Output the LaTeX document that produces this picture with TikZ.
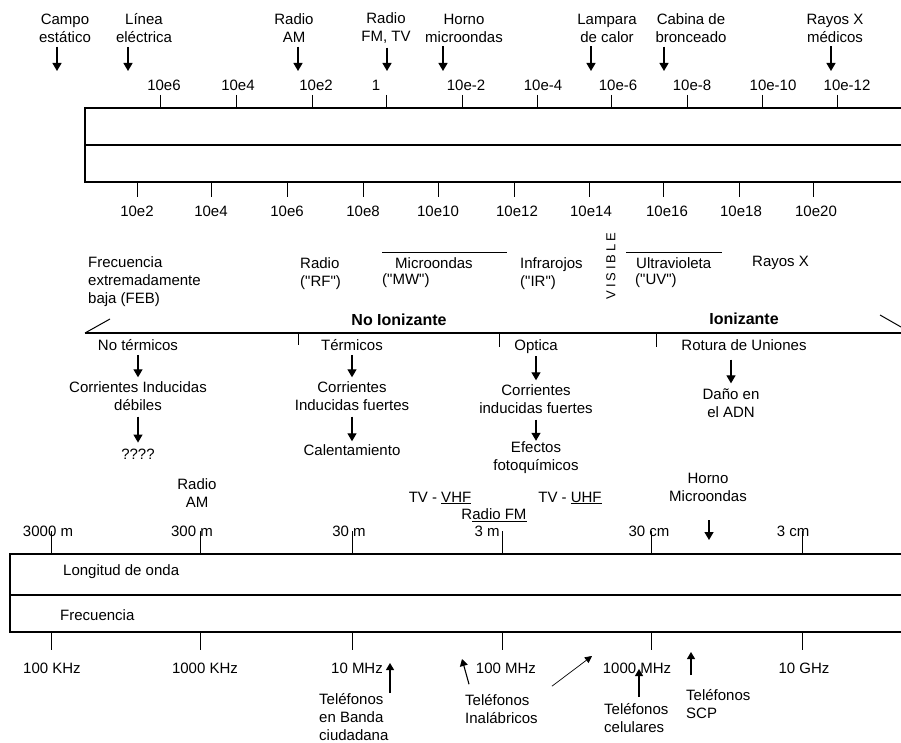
\documentclass[tikz,border=0pt]{standalone}
\usepackage{fontspec}
\setmainfont{Liberation Sans}[Ligatures=TeXOff]
\usetikzlibrary{arrows.meta}
\begin{document}
\begin{tikzpicture}[x=1pt,y=-1pt,
  every node/.style={font=\fontsize{15}{18}\selectfont, inner sep=0pt},
  lbl/.style={align=center},
  lft/.style={align=left, anchor=west},
  boldlbl/.style={font=\fontsize{16}{18}\selectfont\bfseries},
  axis/.style={line width=1.2pt},
  tick/.style={line width=1pt},
  arr/.style={line width=1.3pt, -{Triangle[length=8pt,width=9pt]}},
  thinarr/.style={line width=0.7pt, -{Triangle[length=7pt,width=7pt]}}
]
\useasboundingbox (0,0) rectangle (901,743);

% ---------- wavelength / frequency scale (metres, hertz) ----------
\draw[axis] (901,108) -- (85,108) -- (85,182) -- (901,182);
\draw[axis] (85,145) -- (901,145);

\foreach \x/\lx/\t [count=\i] in {160/164/10e6, 236/238/10e4, 312/316/10e2,
    386/376/1, 462/466/10e-2, 537/543/10e-4, 611/618/10e-6, 687/692/10e-8,
    762/773/10e-10, 837/847/10e-12}{
  \draw[tick] (\x,95) -- (\x,108);
  \node (wl\i) at (\lx,85) {\t};
}
\foreach \x/\lx/\t [count=\i] in {137/137/10e2, 211/211/10e4, 287/287/10e6,
    363/363/10e8, 438/438/10e10, 514/517/10e12, 589/591/10e14, 663/667/10e16,
    739/741/10e18, 813/816/10e20}{
  \draw[tick] (\x,182) -- (\x,197);
  \node (fq\i) at (\lx,211) {\t};
}

% ---------- sources above the scale ----------
\node[lbl] (campo) at (65,28) {Campo\\estático};
\node[lbl] (linea) at (144,28) {Línea\\eléctrica};
\node[lbl] (radioam) at (294,28) {Radio\\AM};
\node[lbl] (radiofm) at (386,28) {Radio\\FM, TV};
\node[lbl] (horno) at (464,28) {Horno\\microondas};
\node[lbl] (lampara) at (607,28) {Lampara\\de calor};
\node[lbl] (cabina) at (691,28) {Cabina de\\bronceado};
\node[lbl] (rayosx) at (835,28) {Rayos X\\médicos};

\coordinate (pcampo) at (57,71);
\coordinate (plinea) at (128,71);
\coordinate (pradioam) at (298,71);
\coordinate (pradiofm) at (387,71);
\coordinate (phorno) at (443,71);
\coordinate (plampara) at (591,71);
\coordinate (pcabina) at (664,71);
\coordinate (prayosx) at (831,71);
\foreach \n in {campo,linea,radioam,radiofm,horno,lampara,cabina,rayosx}{
  \draw[arr, shorten <=4pt] (\n.south -| p\n) -- (p\n);
}

% ---------- bands ----------
\node[lft] (feb) at (88,282) {Frecuencia\\extremadamente\\baja (FEB)};
\node[lft] (rf) at (300,273.5) {Radio\\("RF")};
\node[lft] (mw) at (395,263) {Microondas};
\node[lft] (mwab) at (382,281) {("MW")};
\draw[tick] (382,252) -- (507,252);
\node[lft] (ir) at (520,273.5) {Infrarojos\\("IR")};
\node[rotate=90, font=\fontsize{13}{13}\selectfont] (visible) at (611,266)
  {V\kern3pt I\kern3pt S\kern3pt I\kern3pt B\kern3pt L\kern3pt E};
\node[lft] (uv) at (636,263) {Ultravioleta};
\node[lft] (uvab) at (635,281) {("UV")};
\draw[tick] (626,252) -- (722,252);
\node[lft] (xray) at (752,263) {Rayos X};

% ---------- ionising / non-ionising ----------
\node[boldlbl] (noion) at (399,320) {No Ionizante};
\node[boldlbl] (ion) at (744,319) {Ionizante};
\draw[axis] (85,333) -- (901,333);
\draw[tick] (85,333) -- (110,319);
\draw[tick] (880,315) -- (901,327);
\draw[tick] (298,333) -- (298,345);
\draw[tick] (499,333) -- (499,347);
\draw[tick] (656,333) -- (656,347);

% ---------- biological effects ----------
\node (noterm) at (138,345) {No térmicos};
\node[lbl] (cid) at (138,396) {Corrientes Inducidas\\débiles};
\node (qq) at (138,454) {????};
\draw[arr, shorten <=4pt, shorten >=4pt] (noterm.south) -- (cid.north);
\draw[arr, shorten <=6pt, shorten >=6pt] (cid.south) -- (qq.north);

\node (term) at (352,345) {Térmicos};
\node[lbl] (cif) at (352,396) {Corrientes\\Inducidas fuertes};
\node (calent) at (352,450) {Calentamiento};
\draw[arr, shorten <=4pt, shorten >=4pt] (term.south) -- (cif.north);
\draw[arr, shorten <=6pt, shorten >=3pt] (cif.south) -- (calent.north);

\node (optica) at (536,347) {Optica};
\node[lbl] (cio) at (536,399) {Corrientes\\inducidas fuertes};
\node[lbl] (efectos) at (536,458) {Efectos\\fotoquímicos};
\draw[arr, shorten <=2pt, shorten >=4pt] (optica.south) -- (cio.north);
\draw[arr, shorten <=6pt, shorten >=1pt] (cio.south) -- (efectos.north);

\node (rotura) at (744,345) {Rotura de Uniones};
\node[lbl] (dano) at (731,403) {Daño en\\el ADN};
\draw[arr, shorten <=9pt, shorten >=5pt] (rotura.south -| dano.north) -- (dano.north);

% ---------- applications ----------
\node[lbl] (amlow) at (197,493) {Radio\\AM};
\node (vhf) at (440,498) {TV - \underline{VHF}};
\node (uhf) at (570,498) {TV - \underline{UHF}};
\node (fm) at (494,515) {R\underline{adio FM}};
\node[lbl] (hornomw) at (708,487) {Horno\\Microondas};
\coordinate (phornomw) at (709,540);
\draw[arr, shorten <=19pt] (hornomw.south -| phornomw) -- (phornomw);

% ---------- wavelength / frequency band ----------
\draw[axis] (901,554) -- (10,554) -- (10,632) -- (901,632);
\draw[axis] (10,595) -- (901,595);
\node[lft] (longitud) at (63,572) {Longitud de onda};
\node[lft] (frecuencia) at (60,615) {Frecuencia};

\foreach \x/\lx/\t [count=\i] in {51/48/3000 m, 200/192/300 m, 352/349/30 m,
    502/487/3 m, 651/649/30 cm, 802/793/3 cm}{
  \draw[tick] (\x,531) -- (\x,554);
  \node (lo\i) at (\lx,531) {\t};
}
\foreach \x/\lx/\t [count=\i] in {51/52/100 KHz, 200/205/1000 KHz,
    352/357/10 MHz, 502/506/100 MHz, 651/637/1000 MHz, 802/804/10 GHz}{
  \draw[tick] (\x,632) -- (\x,650);
  \node (fr\i) at (\lx,668) {\t};
}

% ---------- telephones ----------
\node[lft] (banda) at (319,717) {Teléfonos\\en Banda\\ciudadana};
\coordinate (pbanda) at (390,663);
\draw[arr, line width=1.1pt, -{Triangle[length=7pt,width=8pt]}]
  (banda.north -| pbanda) -- (pbanda);

\node[lft] (inal) at (465,709) {Teléfonos\\Inalábricos};
\coordinate (pinal) at (462,659);
\coordinate (pinalb) at (592,656);
\draw[arr, line width=1.1pt, -{Triangle[length=7pt,width=8pt]}]
  ([shift={(4,-10)}]inal.north west) -- (pinal);
\draw[thinarr] ([shift={(14,-8)}]inal.north east) -- (pinalb);

\node[lft] (celular) at (604,718) {Teléfonos\\celulares};
\coordinate (pcelular) at (639,669);
\draw[arr, line width=1.1pt, -{Triangle[length=7pt,width=8pt]}, shorten <=6pt]
  (celular.north -| pcelular) -- (pcelular);

\node[lft] (scp) at (686,704) {Teléfonos\\SCP};
\coordinate (pscp) at (691,652);
\draw[arr, line width=1.1pt, -{Triangle[length=7pt,width=8pt]}, shorten <=14pt]
  (scp.north -| pscp) -- (pscp);
\end{tikzpicture}
\end{document}
